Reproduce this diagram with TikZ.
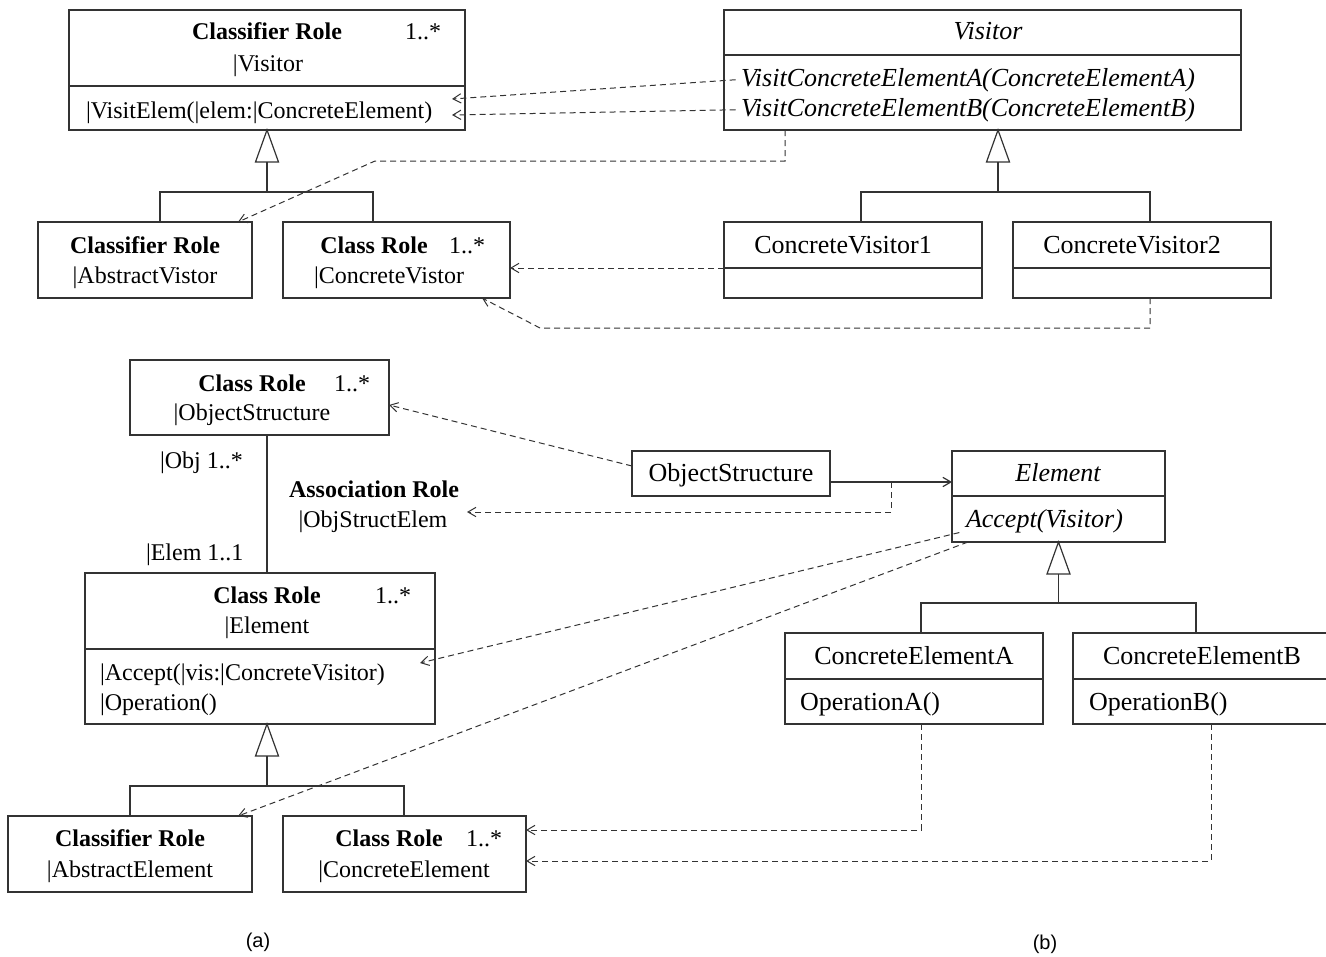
\documentclass[tikz,border=0pt]{standalone}
\usepackage{fontspec}
\setmainfont{Liberation Serif}
\newfontfamily\labelfont{Liberation Sans}
\newcommand\partbsize{\fontsize{19.5}{23}\selectfont}
\usetikzlibrary{arrows.meta,fit}
\begin{document}%
\fontsize{18}{21}\selectfont%
\begin{tikzpicture}[x=0.75pt,y=-0.75pt,
  every node/.style={inner sep=0pt,outer sep=0pt},
  rule/.style={draw=black!80,line width=0.9pt},
  box/.style={rule,fit={#1}},
  openbox/.style={fit={#1}},
  txt/.style={anchor=base},
  lft/.style={anchor=base west},
  cls/.style={font=\partbsize},
  clsit/.style={font=\partbsize\itshape},
  tip/.style={-{Straight Barb[length=6pt,width=7pt]}},
  dep/.style={draw=black!80,line width=0.75pt,dash pattern=on 4.5pt off 3pt,tip},
  caption/.style={font=\labelfont\fontsize{15}{18}\selectfont}]
\useasboundingbox (0,0) rectangle (1326,956);

% ---------------- (a) upper half: visitor roles ----------------
\node[box={(69,10) (465,130)}] (rVis) {};
\draw[rule] (rVis.west |- 0,86) -- (rVis.east |- 0,86);
\node[txt,font=\bfseries] (rVisT) at (267,40) {Classifier Role};
\node[lft] (rVisM) at (405,40) {1..*};
\node[txt] (rVisN) at (268,71) {|Visitor};
\node[lft] (rVisOp) at (86,118) {|VisitElem(|elem:|ConcreteElement)};

\node[box={(38,222) (252,298)}] (rAV) {};
\node[txt,font=\bfseries] (rAVT) at (145,253) {Classifier Role};
\node[txt] (rAVN) at (145,283) {|AbstractVistor};

\node[box={(283,222) (510,298)}] (rCV) {};
\node[txt,font=\bfseries] (rCVT) at (374,253) {Class Role};
\node[lft] (rCVM) at (449,253) {1..*};
\node[txt] (rCVN) at (389,283) {|ConcreteVistor};

% generalisation of the visitor roles
\draw[rule,fill=white] (rVis.south) -- ++(-11.5,32) -- ++(23,0) -- cycle;
\draw[rule] (rVis.south) ++(0,32) -- ++(0,30) coordinate (jV) -| (rAV.north -| 160,0);
\draw[rule] (jV) -| (rCV.north -| 373,0);

% ---------------- (b) upper half: Visitor classes ----------------
\node[box={(724,10) (1241,130)}] (cVis) {};
\draw[rule] (cVis.west |- 0,55) -- (cVis.east |- 0,55);
\node[txt,clsit] (cVisT) at (988,40) {Visitor};
\node[lft,clsit] (cVisA) at (741,86) {VisitConcreteElementA(ConcreteElementA)};
\node[lft,clsit] (cVisB) at (741,116) {VisitConcreteElementB(ConcreteElementB)};

\node[box={(724,222) (982,298)}] (cCV1) {};
\draw[rule] (cCV1.west |- 0,268) -- (cCV1.east |- 0,268);
\node[txt,cls] (cCV1T) at (843,253) {ConcreteVisitor1};

\node[box={(1013,222) (1271,298)}] (cCV2) {};
\draw[rule] (cCV2.west |- 0,268) -- (cCV2.east |- 0,268);
\node[txt,cls] (cCV2T) at (1132,253) {ConcreteVisitor2};

\draw[rule,fill=white] (cVis.south -| 998,0) -- ++(-11.5,32) -- ++(23,0) -- cycle;
\draw[rule] (cVis.south -| 998,0) ++(0,32) -- ++(0,30) coordinate (jC) -| (cCV1.north -| 861,0);
\draw[rule] (jC) -| (cCV2.north -| 1150,0);

% role bindings, upper half
\coordinate (opTipA) at (452,99);
\coordinate (opTipB) at (452,115);
\draw[dep] ([xshift=-4pt]cVisA.west) -- (opTipA);
\draw[dep] ([xshift=-4pt]cVisB.west) -- (opTipB);
\draw[dep] (cVis.south -| 785,0) |- (375,161) -- (rAV.north -| 238,0);
\draw[dep] (cCV1.west |- 0,268) -- (rCV.east |- 0,268);
\draw[dep] (cCV2.south -| 1150,0) |- (540,328) -- (rCV.south -| 482,0);

% ---------------- (a) lower half: element roles ----------------
\node[box={(130,360) (389,435)}] (rOS) {};
\node[txt,font=\bfseries] (rOST) at (252,391) {Class Role};
\node[lft] (rOSM) at (334,391) {1..*};
\node[txt] (rOSN) at (252,420) {|ObjectStructure};

\node[box={(85,573) (435,724)}] (rEl) {};
\draw[rule] (rEl.west |- 0,649) -- (rEl.east |- 0,649);
\node[txt,font=\bfseries] (rElT) at (267,603) {Class Role};
\node[lft] (rElM) at (375,603) {1..*};
\node[txt] (rElN) at (267,633) {|Element};
\node[lft] (rElOpA) at (100,680) {|Accept(|vis:|ConcreteVisitor)};
\node[lft] (rElOpB) at (100,710) {|Operation()};

% association role between the two class roles
\draw[rule] (rOS.south -| 267,0) -- (rEl.north -| 267,0);
\node[lft] (endObj) at (160,468) {|Obj 1..*};
\node[txt,font=\bfseries] (asT) at (374,497) {Association Role};
\node[txt] (asN) at (373,527) {|ObjStructElem};
\node[lft] (endElem) at (146,560) {|Elem 1..1};

\node[box={(8,816) (252,892)}] (rAE) {};
\node[txt,font=\bfseries] (rAET) at (130,846) {Classifier Role};
\node[txt] (rAEN) at (130,877) {|AbstractElement};

\node[box={(283,816) (526,892)}] (rCE) {};
\node[txt,font=\bfseries] (rCET) at (389,846) {Class Role};
\node[lft] (rCEM) at (466,846) {1..*};
\node[txt] (rCEN) at (404,877) {|ConcreteElement};

\draw[rule,fill=white] (rEl.south -| 267,0) -- ++(-11.5,32) -- ++(23,0) -- cycle;
\draw[rule] (rEl.south -| 267,0) ++(0,32) -- ++(0,30) coordinate (jE) -| (rAE.north -| 130,0);
\draw[rule] (jE) -| (rCE.north -| 404,0);

% ---------------- (b) lower half: element classes ----------------
\node[box={(632,451) (830,496)}] (cOS) {};
\node[txt,cls] (cOST) at (731,481) {ObjectStructure};

\node[box={(952,451) (1165,542)}] (cEl) {};
\draw[rule] (cEl.west |- 0,496) -- (cEl.east |- 0,496);
\node[txt,clsit] (cElT) at (1058,481) {Element};
\node[lft,clsit] (cElA) at (966,527) {Accept(Visitor)};

\draw[rule,tip] (cOS.east |- 0,482) -- (cEl.west |- 0,482);

\node[box={(785,633) (1043,724)}] (cEA) {};
\draw[rule] (cEA.west |- 0,679) -- (cEA.east |- 0,679);
\node[txt,cls] (cEAT) at (914,664) {ConcreteElementA};
\node[lft,cls] (cEAOp) at (800,710) {OperationA()};

\node[openbox={(1073,633) (1326,724)}] (cEB) {};
\draw[rule] (cEB.north east) -- (cEB.north west) -- (cEB.south west) -- (cEB.south east);
\draw[rule] (cEB.west |- 0,679) -- (cEB.east |- 0,679);
\node[txt,cls] (cEBT) at (1202,664) {ConcreteElementB};
\node[lft,cls] (cEBOp) at (1089,710) {OperationB()};

\draw[rule,fill=white] (cEl.south) -- ++(-11.5,32) -- ++(23,0) -- cycle;
\draw[rule] (cEl.south) ++(0,32) -- ++(0,29) coordinate (jK) -| (cEA.north -| 921,0);
\draw[rule] (jK) -| (cEB.north -| 1196,0);

% role bindings, lower half
\coordinate (osJoin) at (891,482);
\coordinate (asTip) at (467,512);
\coordinate (accTip) at (420,663);
\draw[dep] (cOS.west |- 0,466) -- (rOS.east |- 0,405);
\draw[dep] (osJoin) |- (asTip);
\draw[dep] ([xshift=-5pt]cElA.south west) -- (accTip);
\draw[dep] (cEl.south -| 968,0) -- (rAE.north -| 238,0);
\draw[dep] (cEA.south -| 921,0) |- (rCE.east |- 0,830);
\draw[dep] (cEB.south -| 1211,0) |- (rCE.east |- 0,861);

% captions
\node[caption] (capA) at (258,942) {(a)};
\node[caption] (capB) at (1045,944) {(b)};
\end{tikzpicture}
\end{document}
